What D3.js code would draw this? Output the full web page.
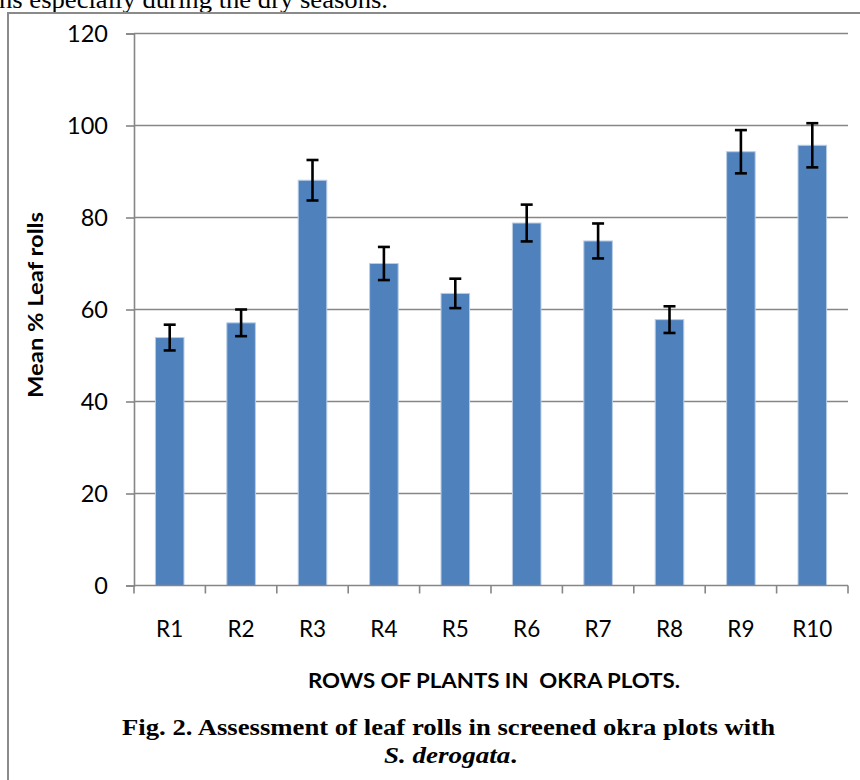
<!DOCTYPE html>
<html>
<head>
<meta charset="utf-8">
<script src="https://cdn.jsdelivr.net/npm/d3@7"></script>
<style>
  html, body { margin: 0; padding: 0; background: #fff; }
  svg { display: block; }
</style>
</head>
<body>
<svg id="chart" width="860" height="780"></svg>
<script>
// ---- data ----
const rows = ["R1", "R2", "R3", "R4", "R5", "R6", "R7", "R8", "R9", "R10"];
const meanLeafRolls = [53.9, 57.1, 88.1, 70.0, 63.5, 78.8, 74.9, 57.8, 94.3, 95.7];
const errorValues = [2.8, 2.9, 4.4, 3.6, 3.2, 4.0, 3.8, 2.9, 4.7, 4.8];
const yTicks = [0, 20, 40, 60, 80, 100, 120];
const yTitle = "Mean % Leaf rolls";
const xTitle = "ROWS OF PLANTS IN  OKRA PLOTS.";
const captionLine1 = "Fig. 2. Assessment of leaf rolls in screened okra plots with";
const captionItalic = "S. derogata";
const topText = "ns especially during the dry seasons.";

const svg = d3.select("#chart");
svg.append("rect").attr("width", 860).attr("height", 780).attr("fill", "#fff");

// partial text line above the figure (cut off at the top, as in the source page)
svg.append("text")
  .attr("x", -1).attr("y", 8)
  .attr("font-family", "'Liberation Serif', 'Times New Roman', serif")
  .attr("font-size", 25)
  .attr("textLength", 389).attr("lengthAdjust", "spacingAndGlyphs")
  .attr("fill", "#000")
  .text(topText);

// figure frame
svg.append("path")
  .attr("d", "M8,790 L8,13 L862,13")
  .attr("fill", "none").attr("stroke", "#8a8a8a").attr("stroke-width", 2);

// ---- scales ----
const x = d3.scaleBand().domain(rows).range([134, 848]).paddingInner(0.6).paddingOuter(0.3);
const y = d3.scaleLinear().domain([0, 120]).range([585.5, 33.5]);

const gridColor = "#868686";

// gridlines
svg.append("g").selectAll("line").data(yTicks.filter(d => d > 0)).join("line")
  .attr("x1", 134).attr("x2", 848)
  .attr("y1", d => y(d)).attr("y2", d => y(d))
  .attr("stroke", gridColor).attr("stroke-width", 1.6);

// y axis
const yAxis = d3.axisLeft(y).tickValues(yTicks).tickSize(8).tickPadding(18);
const gy = svg.append("g").attr("transform", "translate(134,0)").call(yAxis);
gy.select(".domain").attr("stroke", gridColor).attr("stroke-width", 1.6);
gy.selectAll(".tick line").attr("stroke", gridColor).attr("stroke-width", 1.6);
gy.selectAll(".tick text")
  .attr("font-family", "Lato, 'Open Sans', sans-serif")
  .attr("font-size", 23.5).attr("fill", "#000");

// bars
svg.append("g").selectAll("rect").data(rows).join("rect")
  .attr("x", d => x(d))
  .attr("width", x.bandwidth())
  .attr("y", (d, i) => y(meanLeafRolls[i]))
  .attr("height", (d, i) => y(0) - y(meanLeafRolls[i]))
  .attr("fill", "#4F81BD")
  .attr("stroke", "#b9cde5").attr("stroke-width", 1);

// x axis
const xTickPositions = rows.map(r => x(r) - x.step() * x.paddingInner() / 2);
xTickPositions.push(848);
const gx = svg.append("g");
gx.append("line").attr("x1", 134).attr("x2", 848).attr("y1", y(0)).attr("y2", y(0))
  .attr("stroke", gridColor).attr("stroke-width", 1.6);
gx.selectAll("line.tk").data(xTickPositions).join("line").attr("class", "tk")
  .attr("x1", d => d).attr("x2", d => d)
  .attr("y1", y(0)).attr("y2", y(0) + 8)
  .attr("stroke", gridColor).attr("stroke-width", 1.6);
gx.selectAll("text").data(rows).join("text")
  .attr("x", d => x(d) + x.bandwidth() / 2)
  .attr("y", 637)
  .attr("text-anchor", "middle")
  .attr("font-family", "Lato, 'Open Sans', sans-serif")
  .attr("font-size", 22.5).attr("fill", "#000")
  .text(d => d);

// error bars
const eg = svg.append("g").attr("stroke", "#000").attr("stroke-width", 2.6);
rows.forEach((r, i) => {
  const cx = x(r) + x.bandwidth() / 2;
  const top = y(meanLeafRolls[i] + errorValues[i]);
  const bot = y(meanLeafRolls[i] - errorValues[i]);
  eg.append("line").attr("x1", cx).attr("x2", cx).attr("y1", top).attr("y2", bot);
  eg.append("line").attr("x1", cx - 6).attr("x2", cx + 6).attr("y1", top).attr("y2", top);
  eg.append("line").attr("x1", cx - 6).attr("x2", cx + 6).attr("y1", bot).attr("y2", bot);
});

// axis titles
svg.append("text")
  .attr("transform", "translate(43,305) rotate(-90)")
  .attr("text-anchor", "middle")
  .attr("font-family", "Lato, 'Open Sans', sans-serif")
  .attr("font-weight", "bold").attr("font-size", 21)
  .attr("textLength", 186).attr("lengthAdjust", "spacingAndGlyphs")
  .text(yTitle);

svg.append("text")
  .attr("x", 308).attr("y", 688)
  .attr("font-family", "Lato, 'Open Sans', sans-serif")
  .attr("font-weight", "bold").attr("font-size", 21)
  .attr("textLength", 372).attr("lengthAdjust", "spacingAndGlyphs")
  .attr("xml:space", "preserve")
  .style("white-space", "pre")
  .text(xTitle);

// caption
svg.append("text")
  .attr("x", 122).attr("y", 735)
  .attr("font-family", "'Liberation Serif', 'Times New Roman', serif")
  .attr("font-weight", "bold").attr("font-size", 24)
  .attr("textLength", 653).attr("lengthAdjust", "spacingAndGlyphs")
  .text(captionLine1);

const cap2 = svg.append("text")
  .attr("x", 384).attr("y", 763)
  .attr("font-family", "'Liberation Serif', 'Times New Roman', serif")
  .attr("font-weight", "bold").attr("font-size", 24)
  .attr("textLength", 133).attr("lengthAdjust", "spacingAndGlyphs");
cap2.append("tspan").attr("font-style", "italic").text(captionItalic);
cap2.append("tspan").text(".");
</script>
</body>
</html>
